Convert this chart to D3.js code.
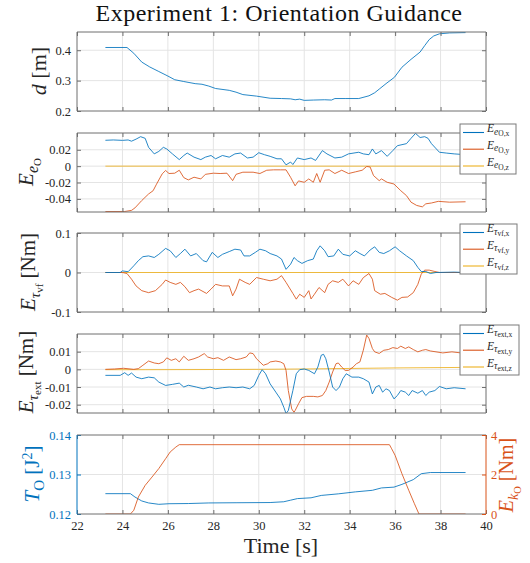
<!DOCTYPE html>
<html>
<head>
<meta charset="utf-8">
<script src="https://cdn.jsdelivr.net/npm/d3@7"></script>
<style>
  body { margin: 0; background: #fff; }
  text { font-family: "Liberation Serif", "Times New Roman", serif; }
</style>
</head>
<body>
<div id="chart"></div>
<script>
// ---- data (time in s) ----
const timeTicks = [22, 24, 26, 28, 30, 32, 34, 36, 38, 40];

const distance = [[23.25,0.409],[24.2,0.409],[24.5,0.39],[24.85,0.361],[25.2,0.345],[25.6,0.33],[26.0,0.315],[26.3,0.303],[26.7,0.297],[27.2,0.29],[27.5,0.288],[27.8,0.282],[28.1,0.274],[28.7,0.268],[29.0,0.262],[29.3,0.254],[29.9,0.249],[30.5,0.242],[31.0,0.241],[31.4,0.240],[31.6,0.237],[31.8,0.239],[32.0,0.235],[32.4,0.236],[32.9,0.237],[33.2,0.236],[33.35,0.241],[33.8,0.241],[34.4,0.241],[34.85,0.25],[35.1,0.26],[35.3,0.272],[35.6,0.29],[35.97,0.311],[36.3,0.344],[36.7,0.37],[37.1,0.394],[37.3,0.415],[37.5,0.435],[37.7,0.447],[37.95,0.454],[38.4,0.457],[39.1,0.458]];

const eOx = [[23.25,0.0316],[23.6,0.032],[24.0,0.0315],[24.25,0.032],[24.4,0.0305],[24.6,0.033],[24.8,0.036],[25.0,0.034],[25.15,0.023],[25.4,0.015],[25.6,0.018],[25.8,0.023],[25.95,0.021],[26.2,0.015],[26.5,0.008],[26.7,0.013],[26.85,0.016],[27.15,0.011],[27.45,0.008],[27.65,0.011],[27.9,0.013],[28.1,0.009],[28.4,0.013],[28.7,0.011],[28.95,0.015],[29.2,0.016],[29.5,0.010],[29.75,0.011],[30.0,0.0164],[30.25,0.014],[30.5,0.012],[30.8,0.009],[31.0,0.009],[31.2,0.0016],[31.4,0.005],[31.5,0.002],[31.7,0.010],[32.0,0.008],[32.3,0.010],[32.5,0.007],[32.8,0.019],[33.0,0.015],[33.35,0.010],[33.65,0.011],[33.95,0.015],[34.4,0.017],[34.6,0.015],[34.85,0.014],[35.0,0.021],[35.15,0.015],[35.4,0.019],[35.65,0.012],[35.9,0.019],[36.1,0.025],[36.5,0.0275],[36.7,0.034],[36.9,0.040],[37.1,0.035],[37.3,0.036],[37.45,0.034],[37.6,0.0275],[37.95,0.017],[38.25,0.016],[38.6,0.015],[39.1,0.014]];
const eOy = [[23.25,-0.0554],[24.1,-0.0554],[24.4,-0.054],[24.55,-0.051],[24.85,-0.042],[25.15,-0.034],[25.35,-0.030],[25.5,-0.022],[25.75,-0.0094],[25.9,-0.0053],[26.05,-0.009],[26.3,-0.0086],[26.5,-0.005],[26.7,-0.014],[26.9,-0.0168],[27.15,-0.0135],[27.45,-0.0156],[27.65,-0.010],[28.0,-0.0086],[28.3,-0.009],[28.6,-0.0086],[28.85,-0.0177],[29.0,-0.010],[29.3,-0.0074],[29.75,-0.0074],[30.05,-0.009],[30.35,-0.005],[30.65,-0.0045],[30.95,-0.0045],[31.2,-0.0045],[31.4,-0.0136],[31.6,-0.024],[31.75,-0.018],[32.0,-0.0197],[32.2,-0.0156],[32.4,-0.0197],[32.55,-0.009],[32.7,-0.0197],[32.9,-0.005],[33.1,-0.0045],[33.35,-0.009],[33.65,-0.005],[33.95,-0.009],[34.25,-0.007],[34.55,-0.005],[34.75,-0.0004],[34.9,-0.001],[35.05,-0.0115],[35.3,-0.0177],[35.4,-0.0156],[35.65,-0.0197],[35.95,-0.0218],[36.25,-0.030],[36.5,-0.036],[36.7,-0.044],[36.95,-0.048],[37.2,-0.0497],[37.35,-0.046],[37.6,-0.045],[37.9,-0.043],[38.4,-0.044],[39.1,-0.0435]];
const eOz = [[23.25,0],[39.1,0]];

const tauVfX = [[23.25,0],[23.9,0],[24.0,0.004],[24.25,0.002],[24.5,0.017],[24.7,0.030],[24.9,0.040],[25.15,0.042],[25.4,0.038],[25.6,0.046],[25.9,0.061],[26.1,0.055],[26.35,0.038],[26.55,0.048],[26.75,0.059],[27.0,0.042],[27.25,0.048],[27.55,0.030],[27.7,0.027],[27.95,0.051],[28.2,0.038],[28.4,0.046],[28.7,0.053],[28.95,0.059],[29.2,0.057],[29.35,0.042],[29.6,0.042],[29.85,0.051],[30.05,0.059],[30.3,0.055],[30.5,0.048],[30.8,0.042],[31.0,0.034],[31.2,0.008],[31.4,0.021],[31.55,0.038],[31.7,0.030],[31.9,0.023],[32.15,0.030],[32.4,0.034],[32.55,0.055],[32.7,0.0675],[32.9,0.055],[33.05,0.040],[33.3,0.042],[33.5,0.059],[33.7,0.046],[34.0,0.042],[34.25,0.055],[34.45,0.048],[34.65,0.042],[34.9,0.057],[35.1,0.065],[35.3,0.051],[35.5,0.048],[35.75,0.055],[36.0,0.065],[36.2,0.055],[36.5,0.042],[36.8,0.030],[37.0,0.013],[37.15,0.0025],[37.35,0.0025],[37.55,-0.0025],[37.8,0],[38.6,0.001],[39.1,0]];
const tauVfY = [[23.25,0],[24.0,0],[24.2,-0.0025],[24.4,-0.017],[24.6,-0.034],[24.85,-0.046],[25.15,-0.051],[25.45,-0.046],[25.75,-0.030],[25.9,-0.019],[26.1,-0.025],[26.35,-0.030],[26.55,-0.025],[26.75,-0.036],[26.95,-0.051],[27.15,-0.046],[27.35,-0.042],[27.7,-0.053],[27.9,-0.042],[28.1,-0.030],[28.4,-0.034],[28.7,-0.034],[28.85,-0.059],[29.0,-0.042],[29.15,-0.017],[29.4,-0.025],[29.6,-0.030],[29.9,-0.0127],[30.2,-0.017],[30.5,-0.021],[30.8,-0.017],[31.0,-0.008],[31.2,-0.025],[31.5,-0.053],[31.65,-0.0675],[31.8,-0.055],[32.0,-0.063],[32.2,-0.046],[32.3,-0.067],[32.45,-0.055],[32.65,-0.038],[32.9,-0.051],[33.05,-0.030],[33.25,-0.021],[33.5,-0.025],[33.7,-0.017],[33.95,-0.034],[34.15,-0.021],[34.4,-0.030],[34.6,-0.013],[34.85,-0.0025],[35.0,-0.017],[35.1,-0.046],[35.35,-0.055],[35.55,-0.053],[35.85,-0.063],[36.1,-0.070],[36.3,-0.063],[36.55,-0.062],[36.8,-0.051],[37.0,-0.030],[37.15,-0.004],[37.3,0.006],[37.5,0.006],[37.75,0.0025],[37.95,0],[39.1,0]];
const tauVfZ = [[23.25,0],[39.1,0]];

const tauExtX = [[23.25,-0.0034],[23.9,-0.0034],[24.1,-0.0019],[24.25,-0.0034],[24.4,-0.0021],[24.6,-0.0044],[24.85,-0.0053],[25.15,-0.0044],[25.4,-0.0048],[25.6,-0.0072],[25.9,-0.0091],[26.2,-0.0085],[26.5,-0.0078],[26.7,-0.010],[26.9,-0.009],[27.25,-0.010],[27.55,-0.011],[27.85,-0.010],[28.1,-0.011],[28.4,-0.0104],[28.7,-0.010],[29.0,-0.0104],[29.3,-0.010],[29.6,-0.011],[29.8,-0.0091],[30.0,-0.0034],[30.15,-0.0002],[30.3,-0.0025],[30.5,-0.0082],[30.75,-0.0129],[30.95,-0.0167],[31.1,-0.0214],[31.2,-0.025],[31.3,-0.0233],[31.5,-0.012],[31.65,-0.0025],[31.8,-0.0002],[32.0,0.0002],[32.2,-0.0006],[32.45,-0.0025],[32.6,0.0013],[32.75,0.008],[32.85,0.0085],[32.95,0.006],[33.1,-0.0015],[33.25,-0.010],[33.4,-0.012],[33.55,-0.010],[33.7,-0.0053],[33.85,-0.0025],[34.1,-0.0044],[34.4,-0.0044],[34.6,-0.0053],[34.85,-0.0072],[35.0,-0.0139],[35.15,-0.010],[35.3,-0.0091],[35.45,-0.0129],[35.6,-0.011],[35.75,-0.012],[35.95,-0.0167],[36.1,-0.0148],[36.25,-0.012],[36.45,-0.0129],[36.6,-0.0148],[36.75,-0.012],[37.0,-0.0135],[37.2,-0.012],[37.35,-0.0148],[37.5,-0.0129],[37.75,-0.012],[37.95,-0.0097],[38.25,-0.011],[38.6,-0.0104],[39.1,-0.011]];
const tauExtY = [[23.25,0],[23.65,0.0002],[24.05,0.0006],[24.5,0],[24.7,0.0004],[24.9,0.0023],[25.15,0.0047],[25.4,0.0036],[25.6,0.0032],[25.8,0.0042],[25.95,0.0065],[26.15,0.0051],[26.35,0.006],[26.5,0.0042],[26.7,0.0074],[26.9,0.0051],[27.15,0.006],[27.35,0.007],[27.6,0.0089],[27.75,0.007],[28.0,0.006],[28.2,0.0066],[28.45,0.0051],[28.7,0.007],[29.0,0.0055],[29.2,0.006],[29.45,0.007],[29.6,0.0093],[29.75,0.0089],[29.9,0.006],[30.2,0.0023],[30.4,0.0032],[30.5,0.0042],[30.75,0.0047],[30.95,0.0042],[31.1,0.0032],[31.2,-0.0006],[31.3,-0.012],[31.45,-0.0224],[31.55,-0.0243],[31.6,-0.0233],[31.75,-0.0195],[31.9,-0.016],[32.1,-0.0153],[32.4,-0.0153],[32.6,-0.0156],[32.8,-0.0148],[32.95,-0.012],[33.1,-0.0072],[33.25,-0.0015],[33.4,0.0032],[33.5,0.0036],[33.65,0.0013],[33.8,-0.0006],[33.95,-0.0006],[34.15,0.0013],[34.3,0.0032],[34.45,0.0042],[34.6,0.0108],[34.75,0.0194],[34.85,0.0175],[35.0,0.0118],[35.1,0.0099],[35.3,0.009],[35.5,0.0108],[35.7,0.0112],[35.9,0.0123],[36.1,0.0118],[36.25,0.0131],[36.45,0.0118],[36.6,0.0127],[36.8,0.0112],[37.0,0.0099],[37.2,0.0108],[37.35,0.0112],[37.55,0.0104],[37.8,0.0099],[38.1,0.0093],[38.5,0.0099],[38.9,0.0093],[39.1,0.0095]];
const tauExtZ = [[23.25,-0.0002],[25,-0.0002],[28,-0.0001],[30,0],[32,0.0002],[34,0.0005],[36,0.0008],[39.1,0.0011]];

const energyTank = [[23.25,0.12515],[24.35,0.12515],[24.55,0.1243],[24.85,0.1233],[25.15,0.1228],[25.6,0.12245],[26.05,0.1226],[26.9,0.12265],[27.8,0.1228],[29.0,0.12285],[30.5,0.1229],[31.1,0.1231],[31.4,0.1235],[31.7,0.1239],[32.3,0.1241],[32.75,0.1247],[33.5,0.1251],[34.25,0.1256],[35.0,0.126],[35.4,0.1266],[35.95,0.1268],[36.3,0.1275],[36.8,0.1287],[37.15,0.1302],[37.55,0.1305],[39.1,0.1305]];
const stiffness = [[23.25,0],[24.35,0],[24.5,0.19],[24.7,0.86],[25.0,1.45],[25.3,1.87],[25.6,2.3],[25.9,2.8],[26.1,3.14],[26.35,3.39],[26.5,3.51],[35.75,3.51],[35.85,3.3],[36.0,2.97],[36.3,2.04],[36.6,1.2],[36.85,0.52],[37.05,0],[39.1,0]];
const stiffnessTicks = [0, 2, 4];

const blue = "#0072BD", orange = "#D95319", yellow = "#EDB120";
const frameColor = "#6e6e6e", gridColor = "#e4e4e4", textColor = "#262626";
const serif = '"Liberation Serif", "Times New Roman", serif';

const width = 530, height = 563;
const plotLeft = 77, plotRight = 486;
const panelTops = [32, 133, 233, 334, 435];
const panelH = 79;

const svg = d3.select("#chart").append("svg")
  .attr("width", width).attr("height", height);

const x = d3.scaleLinear().domain([22, 40]).range([plotLeft, plotRight]);

// math-ish label made of tspans: [text, size, italic, dy]
function mathText(sel, parts) {
  parts.forEach(p => {
    sel.append("tspan")
      .attr("font-size", p[1])
      .attr("font-style", p[2] ? "italic" : "normal")
      .attr("dy", p[3] || 0)
      .text(p[0]);
  });
  return sel;
}

function styleAxis(ax, color) {
  ax.attr("font-family", null);
  ax.select(".domain").remove();
  ax.selectAll(".tick line").attr("stroke", color);
  ax.selectAll("text").attr("fill", color)
    .style("font-family", serif).attr("font-size", 12.5);
}

function panel(i, domain, ticks, opts = {}) {
  const top = panelTops[i];
  const y = d3.scaleLinear().domain(domain).range([top + panelH, top]);
  const g = svg.append("g");

  // grid
  g.append("g").selectAll("line").data(timeTicks.slice(1, -1)).join("line")
    .attr("x1", d => x(d)).attr("x2", d => x(d))
    .attr("y1", top).attr("y2", top + panelH)
    .attr("stroke", gridColor);
  g.append("g").selectAll("line").data(ticks.filter(t => y(t) > top + 0.5 && y(t) < top + panelH - 0.5)).join("line")
    .attr("x1", plotLeft).attr("x2", plotRight)
    .attr("y1", d => y(d)).attr("y2", d => y(d))
    .attr("stroke", gridColor);

  const clipId = "clip" + i;
  svg.append("clipPath").attr("id", clipId).append("rect")
    .attr("x", plotLeft).attr("y", top).attr("width", plotRight - plotLeft).attr("height", panelH);
  const lines = g.append("g").attr("clip-path", `url(#${clipId})`);

  const la = g.append("g").attr("transform", `translate(${plotLeft},0)`)
    .call(d3.axisLeft(y).tickValues(ticks).tickFormat(d => String(d)).tickSizeInner(-4).tickSizeOuter(0).tickPadding(6));
  styleAxis(la, opts.leftColor || textColor);
  la.selectAll(".tick line").attr("stroke", opts.leftColor || frameColor);

  const ta = g.append("g").attr("transform", `translate(0,${top})`)
    .call(d3.axisTop(x).tickValues(timeTicks).tickFormat("").tickSizeInner(-4).tickSizeOuter(0));
  styleAxis(ta, frameColor);

  const ba = g.append("g").attr("transform", `translate(0,${top + panelH})`)
    .call(d3.axisBottom(x).tickValues(timeTicks).tickFormat(opts.xLabels ? d => String(d) : "")
      .tickSizeInner(-4).tickSizeOuter(0).tickPadding(7));
  styleAxis(ba, textColor);
  ba.selectAll(".tick line").attr("stroke", frameColor);

  if (!opts.noRight) {
    const ra = g.append("g").attr("transform", `translate(${plotRight},0)`)
      .call(d3.axisRight(y).tickValues(ticks).tickFormat("").tickSizeInner(-4).tickSizeOuter(0));
    styleAxis(ra, frameColor);
  }

  // frame
  g.append("line").attr("x1", plotLeft).attr("x2", plotRight).attr("y1", top).attr("y2", top).attr("stroke", frameColor);
  g.append("line").attr("x1", plotLeft).attr("x2", plotRight).attr("y1", top + panelH).attr("y2", top + panelH).attr("stroke", frameColor);
  g.append("line").attr("x1", plotLeft).attr("x2", plotLeft).attr("y1", top).attr("y2", top + panelH).attr("stroke", opts.leftColor || frameColor);
  g.append("line").attr("x1", plotRight).attr("x2", plotRight).attr("y1", top).attr("y2", top + panelH).attr("stroke", opts.rightColor || frameColor);

  return { g, y, lines, top };
}

function drawLine(p, data, color, yScale) {
  const ys = yScale || p.y;
  p.lines.append("path").datum(data)
    .attr("fill", "none").attr("stroke", color).attr("stroke-width", 0.85)
    .attr("stroke-linejoin", "round")
    .attr("d", d3.line().x(d => x(d[0])).y(d => ys(d[1])));
}

function yLabel(xb, yc, parts, color) {
  const t = svg.append("text")
    .attr("transform", `translate(${xb},${yc}) rotate(-90)`)
    .attr("text-anchor", "middle").attr("fill", color || textColor);
  mathText(t, parts);
}

function legend(top, w, entries) {
  const left = 460, h = 50;
  const lg = svg.append("g");
  lg.append("rect").attr("x", left).attr("y", top).attr("width", w).attr("height", h)
    .attr("fill", "#fff").attr("stroke", "#7a7a7a");
  const rows = [8.5, 25.2, 42];
  entries.forEach((e, k) => {
    const yy = top + rows[k];
    lg.append("line").attr("x1", left + 3).attr("x2", left + 24).attr("y1", yy).attr("y2", yy)
      .attr("stroke", e.color).attr("stroke-width", 1.1);
    const t = lg.append("text").attr("x", left + 27).attr("y", yy - 0.5).attr("fill", textColor);
    mathText(t, e.parts);
  });
}

// title
svg.append("text").attr("x", 279).attr("y", 21).attr("text-anchor", "middle")
  .attr("font-size", 24).attr("letter-spacing", 0.5).attr("fill", "#111")
  .text("Experiment 1: Orientation Guidance");

// panel 1: distance
const p1 = panel(0, [0.2, 0.46], [0.2, 0.3, 0.4]);
drawLine(p1, distance, blue);
yLabel(46, 71, [["d", 22, true], [" [m]", 22, false]]);

// panel 2: orientation error
const p2 = panel(1, [-0.056, 0.0405], [-0.04, -0.02, 0, 0.02]);
drawLine(p2, eOz, yellow);
drawLine(p2, eOy, orange);
drawLine(p2, eOx, blue);
yLabel(33, 172, [["E", 21, true], ["e", 16, true, 5], ["O", 11, false, 3]]);
legend(124, 56, ["x", "y", "z"].map((c, k) => ({
  color: [blue, orange, yellow][k],
  parts: [["E", 11.5, true], ["e", 9.5, true, 2.5], ["O," + c, 7.5, false, 1.5]]
})));

// panel 3: virtual fixture torque
const p3 = panel(2, [-0.1, 0.1], [-0.1, 0, 0.1]);
drawLine(p3, tauVfZ, yellow);
drawLine(p3, tauVfY, orange);
drawLine(p3, tauVfX, blue);
yLabel(35, 272, [["E", 21, true], ["τ", 15, true, 5], ["vf", 11, false, 3], [" [Nm]", 21, false, -8]]);
legend(224, 57, ["x", "y", "z"].map((c, k) => ({
  color: [blue, orange, yellow][k],
  parts: [["E", 11.5, true], ["τ", 9.5, true, 2.5], ["vf," + c, 7.5, false, 1.5]]
})));

// panel 4: external torque
const p4 = panel(3, [-0.0247, 0.02], [-0.02, -0.01, 0, 0.01]);
drawLine(p4, tauExtZ, yellow);
drawLine(p4, tauExtY, orange);
drawLine(p4, tauExtX, blue);
yLabel(33, 372, [["E", 21, true], ["τ", 15, true, 5], ["ext", 11, false, 3], [" [Nm]", 21, false, -8]]);
legend(325, 59, ["x", "y", "z"].map((c, k) => ({
  color: [blue, orange, yellow][k],
  parts: [["E", 11.5, true], ["τ", 9.5, true, 2.5], ["ext," + c, 7.5, false, 1.5]]
})));

// panel 5: tank energy (left) and stiffness (right)
const p5 = panel(4, [0.12, 0.14], [0.12, 0.13, 0.14],
  { leftColor: blue, rightColor: orange, noRight: true, xLabels: true });
const yK = d3.scaleLinear().domain([0, 4]).range([p5.top + panelH, p5.top]);
const ra = p5.g.append("g").attr("transform", `translate(${plotRight},0)`)
  .call(d3.axisRight(yK).tickValues(stiffnessTicks).tickFormat(d => String(d))
    .tickSizeInner(-4).tickSizeOuter(0).tickPadding(5));
styleAxis(ra, orange);
drawLine(p5, energyTank, blue);
drawLine(p5, stiffness, orange, yK);
yLabel(39, 474, [["T", 21, true], ["O", 15, false, 5], [" [J", 21, false, -5], ["2", 14, false, -7], ["]", 21, false, 7]], blue);
yLabel(513, 475, [["E", 20, true], ["k", 14, true, 5], ["O", 10.5, false, 3], [" [Nm]", 20, false, -8]], orange);

// x label
svg.append("text").attr("x", 281).attr("y", 553).attr("text-anchor", "middle")
  .attr("font-size", 22).attr("fill", textColor).text("Time [s]");
</script>
</body>
</html>
